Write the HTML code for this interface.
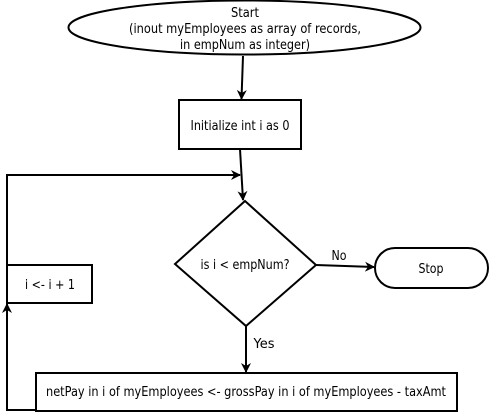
<!DOCTYPE html>
<html><head><style>body{margin:0;background:#fff}svg{display:block}</style></head>
<body>
<svg width="489" height="412" viewBox="0 0 489 412" font-family="DejaVu Sans, sans-serif" font-size="13">
<defs><marker id="a" markerWidth="10" markerHeight="10" refX="9" refY="5" orient="auto" markerUnits="userSpaceOnUse"><path d="M0,0 L10,5 L0,10 L3,5 z" fill="#000"/></marker></defs>
<g stroke="#000" stroke-width="2" fill="none">
<ellipse cx="244.5" cy="27.5" rx="176" ry="27" fill="#fff"/>
<line x1="243" y1="56" x2="241.5" y2="99" marker-end="url(#a)"/>
<rect x="179" y="100" width="122" height="49" fill="#fff"/>
<line x1="240" y1="149" x2="243" y2="200" marker-end="url(#a)"/>
<polyline points="7,265 7,175 240,175" marker-end="url(#a)"/>
<polygon points="245,201 316,265 246,326 175,264" fill="#fff"/>
<line x1="316" y1="265" x2="374" y2="267" marker-end="url(#a)"/>
<rect x="375" y="248" width="113" height="40" rx="20" fill="#fff"/>
<rect x="7" y="265" width="85" height="38" fill="#fff"/>
<line x1="246" y1="326" x2="246" y2="372" marker-end="url(#a)"/>
<rect x="36" y="373" width="421" height="38" fill="#fff"/>
<polyline points="36,410 7,410 7,304" marker-end="url(#a)"/>
</g>
<g text-anchor="middle" fill="#000" font-size="13">
<text x="245" y="17" textLength="28" lengthAdjust="spacingAndGlyphs">Start</text>
<text x="245" y="33" textLength="232" lengthAdjust="spacingAndGlyphs">(inout myEmployees as array of records,</text>
<text x="245" y="49" textLength="130" lengthAdjust="spacingAndGlyphs">in empNum as integer)</text>
<text x="240" y="130" textLength="99" lengthAdjust="spacingAndGlyphs">Initialize int i as 0</text>
<text x="245" y="269" textLength="89" lengthAdjust="spacingAndGlyphs">is i &lt; empNum?</text>
<text x="431" y="273" textLength="25" lengthAdjust="spacingAndGlyphs">Stop</text>
<text x="50" y="289" textLength="50" lengthAdjust="spacingAndGlyphs">i &lt;- i + 1</text>
<text x="246" y="396" textLength="400" lengthAdjust="spacingAndGlyphs">netPay in i of myEmployees &lt;- grossPay in i of myEmployees - taxAmt</text>
<text x="339" y="260" textLength="15" lengthAdjust="spacingAndGlyphs">No</text>
<text x="264" y="348" textLength="21" lengthAdjust="spacingAndGlyphs">Yes</text>
</g>
</svg>
</body></html>
